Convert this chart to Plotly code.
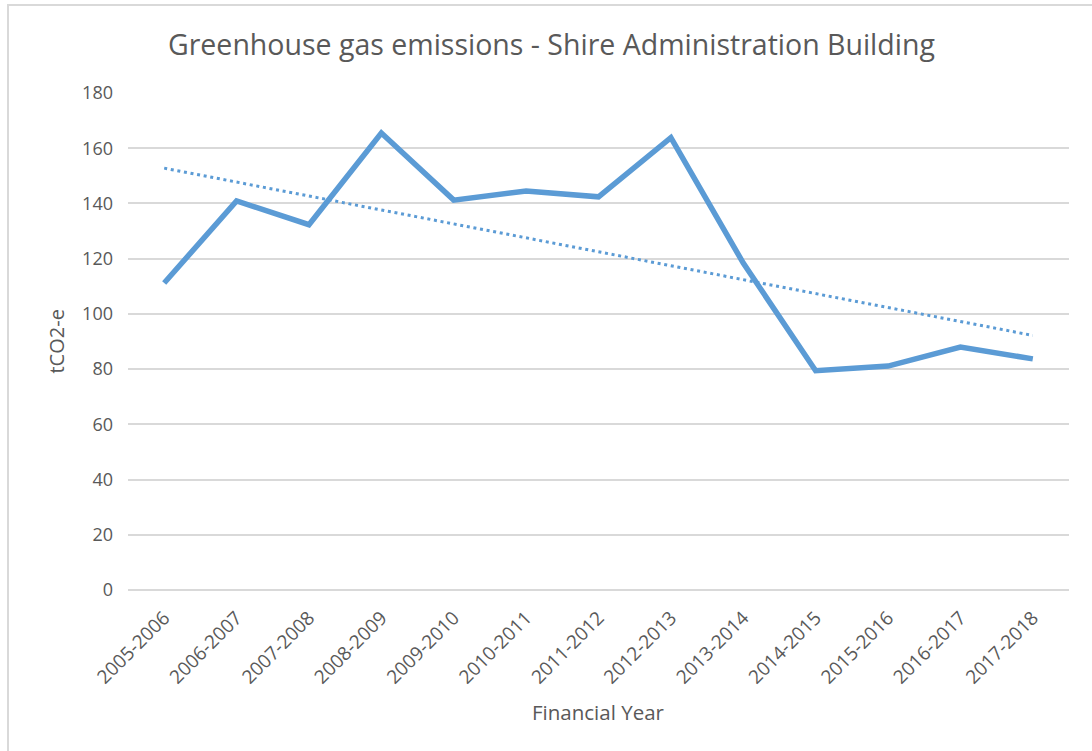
import numpy as np
import plotly.graph_objects as go

years = ['2005-2006', '2006-2007', '2007-2008', '2008-2009', '2009-2010', '2010-2011',
         '2011-2012', '2012-2013', '2013-2014', '2014-2015', '2015-2016', '2016-2017', '2017-2018']
emissions = [111.2, 140.9, 132.3, 165.5, 141.2, 144.5, 142.4, 163.8, 118.4, 79.4, 81.1, 88.0, 83.7]

# linear trendline, like Excel's
idx = np.arange(len(years))
slope, intercept = np.polyfit(idx, emissions, 1)
trend = slope * idx + intercept

grey = '#595959'
blue = '#5b9bd5'
font = 'Open Sans, Liberation Sans, sans-serif'

fig = go.Figure()
fig.add_trace(go.Scatter(x=years, y=emissions, mode='lines',
                         line=dict(color=blue, width=5.5), showlegend=False))
fig.add_trace(go.Scatter(x=years, y=trend, mode='lines',
                         line=dict(color=blue, width=3, dash='3px,3.7px'), showlegend=False))

fig.update_layout(
    width=1092, height=751,
    margin=dict(l=128, r=23, t=93, b=161),
    paper_bgcolor='white', plot_bgcolor='white',
    font=dict(family=font, color=grey),
    title=dict(text='Greenhouse gas emissions - Shire Administration Building',
               xref='container', x=0.505, xanchor='center',
               yref='container', y=0.94, yanchor='middle',
               font=dict(size=28.5, color=grey)),
)
fig.update_xaxes(range=[-0.5, 12.5], tickangle=-45, showgrid=False, showline=False,
                 ticks='', ticklabelstandoff=12, tickfont=dict(size=19, color=grey))
fig.update_yaxes(range=[0, 180], dtick=20, showgrid=True, gridcolor='#d9d9d9', gridwidth=1.5,
                 zeroline=True, zerolinecolor='#d9d9d9', zerolinewidth=1.5, showline=False,
                 ticks='', ticklabelstandoff=14, tickfont=dict(size=18, color=grey))

# axis titles
fig.add_annotation(text='Financial Year', xref='paper', yref='paper', x=0.5, y=-0.2455,
                   xanchor='center', yanchor='middle', showarrow=False,
                   font=dict(size=20.5, color=grey))
fig.add_annotation(text='tCO2-e', xref='paper', yref='paper', x=-0.0765, y=0.5,
                   xanchor='center', yanchor='middle', textangle=-90, showarrow=False,
                   font=dict(size=20, color=grey))

# outer chart border (only left and top edges visible in the frame)
fig.add_shape(type='rect', xref='paper', yref='paper',
              x0=-0.1275, x1=1.2, y0=-0.5, y1=1.177,
              line=dict(color='#d9d9d9', width=2), layer='below')

fig.write_html('out.html', config={'displayModeBar': False},
               post_script="document.body.style.margin='0';")
